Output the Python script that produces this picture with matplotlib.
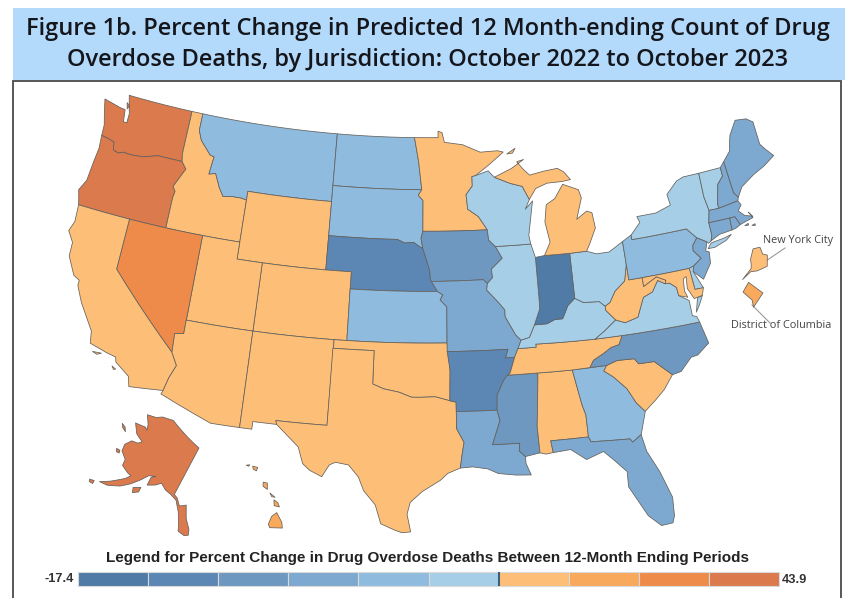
import numpy as np
import matplotlib
matplotlib.use("Agg")
import matplotlib.pyplot as plt
from matplotlib.patches import Polygon, Rectangle

W, H = 848, 598
TITLE_LINES = ["Figure 1b. Percent Change in Predicted 12 Month-ending Count of Drug",
               "Overdose Deaths, by Jurisdiction: October 2022 to October 2023"]
LEGEND_TITLE = "Legend for Percent Change in Drug Overdose Deaths Between 12-Month Ending Periods"
LEGEND_MIN, LEGEND_MAX = "-17.4", "43.9"
BIN_EDGES = [-17.4, -14.5, -11.6, -8.7, -5.8, -2.9, 0, 11, 22, 33, 43.9]
BIN_COLORS = ["#4f7ba6", "#5c87b4", "#6f98c0", "#7da8cf", "#8fbcde", "#a6cfe7",
              "#fdbf77", "#f9a95c", "#ef8b4a", "#db7a4c"]

JURISDICTIONS = ["AL","AK","AZ","AR","CA","CO","CT","DE","DC","FL","GA","HI","ID","IL","IN","IA","KS","KY","LA","ME",
                 "MD","MA","MI","MN","MS","MO","MT","NE","NV","NH","NJ","NM","NY","NYC","NC","ND","OH","OK","OR","PA",
                 "RI","SC","SD","TN","TX","UT","VT","VA","WA","WV","WI","WY"]
PERCENT_CHANGE = [5, 40, 5, -13, 5, 5, -7, -2, 15, -7, -4, 15, 5, -1.5, -16, -10, -4, -1.5, -7, -7,
                  5, -7, 5, 5, -10, -6.5, -4, -13, 28, -7, -7, 5, -1.5, 5, -10, -4, -1.5, 5, 40, -4,
                  -7, 5, -4, 5, 5, 5, -1.5, -1.5, 40, 5, -1.5, 5]

WA = [(-124.7,48.38),(-123.2,48.15),(-122.75,48.12),(-122.6,47.4),(-122.3,47.4),(-122.3,47.95),(-122.5,48.4),(-122.75,49.0),(-117.03,49.0),(-117.04,46.42),(-116.92,45.99),(-118.98,46.0),(-119.3,45.93),(-120.2,45.72),(-121.2,45.65),(-121.9,45.68),(-122.3,45.55),(-122.76,45.65),(-122.9,46.1),(-123.4,46.2),(-124.05,46.27),(-124.1,46.9),(-124.4,47.6)]
WA_ISLAND = [(-122.75,48.55),(-122.45,48.4),(-122.6,48.2)]
OR = [(-124.05,46.27),(-123.4,46.2),(-122.9,46.1),(-122.76,45.65),(-122.3,45.55),(-121.9,45.68),(-121.2,45.65),(-120.2,45.72),(-119.3,45.93),(-118.98,46.0),(-116.92,45.99),(-116.47,45.6),(-116.7,45.25),(-117.2,44.45),(-116.95,44.2),(-117.03,43.8),(-117.03,42.0),(-124.2,42.0),(-124.4,42.5),(-124.55,42.84),(-124.15,43.5),(-124.05,44.7),(-123.95,45.5)]
ID = [(-117.03,49.0),(-116.05,49.0),(-116.05,48.0),(-115.7,47.45),(-114.7,46.7),(-114.35,46.65),(-114.5,45.6),(-113.95,45.7),(-113.45,44.95),(-113.0,44.45),(-112.3,44.55),(-111.5,44.55),(-111.05,44.48),(-111.05,42.0),(-117.03,42.0),(-117.03,43.8),(-116.95,44.2),(-117.2,44.45),(-116.7,45.25),(-116.47,45.6),(-116.92,45.99),(-117.04,46.42)]
MT = [(-116.05,49.0),(-104.05,49.0),(-104.05,45.0),(-111.05,45.0),(-111.05,44.48),(-111.5,44.55),(-112.3,44.55),(-113.0,44.45),(-113.45,44.95),(-113.95,45.7),(-114.5,45.6),(-114.35,46.65),(-114.7,46.7),(-115.7,47.45),(-116.05,48.0)]
WY = [(-111.05,45),(-104.05,45),(-104.05,41),(-111.05,41)]
ND = [(-104.05,49),(-97.23,49),(-96.85,47.6),(-96.56,45.93),(-104.05,45.94)]
SD = [(-104.05,45.94),(-96.56,45.93),(-96.85,45.6),(-96.45,45.3),(-96.45,43.5),(-96.6,43.1),(-96.45,42.49),(-96.7,42.6),(-97.2,42.85),(-97.9,42.8),(-98.5,43),(-104.05,43)]
NE = [(-104.05,43),(-98.5,43),(-97.9,42.8),(-97.2,42.85),(-96.7,42.6),(-96.45,42.49),(-96.1,41.7),(-95.9,41.2),(-95.85,40.7),(-95.31,40.0),(-102.05,40),(-102.05,41),(-104.05,41)]
CO = [(-109.05,41),(-102.05,41),(-102.05,37),(-109.05,37)]
UT = [(-114.05,42),(-111.05,42),(-111.05,41),(-109.05,41),(-109.05,37),(-114.05,37)]
NV = [(-120,42),(-114.05,42),(-114.05,36.2),(-114.7,36.1),(-114.63,35.0),(-120,39)]
CA = [(-124.2,42),(-120,42),(-120,39),(-114.63,35),(-114.13,34.3),(-114.5,33.5),(-114.72,32.72),(-117.12,32.53),(-117.3,33.1),(-118.4,33.75),(-118.5,34.03),(-119.2,34.15),(-120.5,34.45),(-120.65,35.15),(-121.9,36.6),(-122.5,37.5),(-122.5,37.8),(-123.0,38.0),(-123.75,39.0),(-123.8,39.8),(-124.35,40.4),(-124.1,41.0)]
CA_CHANNEL_A = [(-120.2,34.02),(-119.55,34.05),(-119.85,33.92)]
CA_CHANNEL_B = [(-118.6,33.47),(-118.3,33.35),(-118.45,33.3)]
AZ = [(-114.05,37),(-109.05,37),(-109.05,31.33),(-111.07,31.33),(-114.82,32.5),(-114.72,32.72),(-114.5,33.5),(-114.13,34.3),(-114.63,35),(-114.7,36.1),(-114.05,36.2)]
NM = [(-109.05,37),(-103.0,37),(-103.05,32),(-106.62,32),(-106.53,31.78),(-108.2,31.78),(-108.2,31.33),(-109.05,31.33)]
KS = [(-102.05,40),(-95.31,40),(-94.9,39.8),(-95.1,39.5),(-94.6,39.1),(-94.62,37),(-102.05,37)]
OK = [(-103,37),(-94.62,37),(-94.43,35.4),(-94.48,33.64),(-95.5,33.88),(-96.6,33.85),(-97.2,33.85),(-98.1,34.13),(-99.2,34.3),(-100,34.56),(-100,36.5),(-103,36.5)]
TX = [(-106.62,32),(-103.05,32),(-103.04,36.5),(-100,36.5),(-100,34.56),(-99.2,34.3),(-98.1,34.13),(-97.2,33.85),(-96.6,33.85),(-95.5,33.88),(-94.48,33.64),(-94.04,33.55),(-94.04,32),(-93.55,31.2),(-93.7,30.5),(-93.85,29.7),(-94.7,29.4),(-95.2,29.0),(-96.4,28.35),(-97.2,27.7),(-97.4,27.0),(-97.15,25.96),(-97.7,25.9),(-98.2,26.05),(-99.1,26.4),(-99.5,27.5),(-100.3,28.3),(-100.7,29.1),(-101.4,29.77),(-102.3,29.88),(-102.7,29.7),(-103.15,28.98),(-104.0,29.3),(-104.5,29.65),(-104.9,30.6),(-106.0,31.4),(-106.53,31.78)]
MN = [(-97.23,49),(-95.15,49),(-95.15,49.38),(-94.8,49.3),(-94.6,48.72),(-93.0,48.55),(-91.5,48.07),(-90,48.1),(-89.5,48.0),(-90.8,47.3),(-92.0,46.7),(-92.3,46.65),(-92.3,46.1),(-92.85,45.6),(-92.75,44.75),(-91.9,44.3),(-91.22,43.5),(-96.45,43.5),(-96.45,45.3),(-96.85,45.6),(-96.56,45.93),(-96.85,47.6)]
IA = [(-96.45,43.5),(-91.22,43.5),(-91.15,42.9),(-90.64,42.5),(-90.15,41.8),(-91.05,41.2),(-91.0,40.7),(-91.42,40.38),(-91.73,40.61),(-95.77,40.58),(-95.85,40.7),(-95.9,41.2),(-96.1,41.7),(-96.45,42.49),(-96.6,43.1)]
MO = [(-95.77,40.58),(-91.73,40.61),(-91.42,40.38),(-91.5,40.0),(-90.7,39.3),(-90.2,38.8),(-90.2,38.4),(-89.5,37.3),(-89.13,36.98),(-89.4,36.5),(-89.7,36.0),(-90.37,36.0),(-90.15,36.5),(-94.62,36.5),(-94.62,37),(-94.6,39.1),(-95.1,39.5),(-94.9,39.8),(-95.31,40)]
AR = [(-94.62,36.5),(-90.15,36.5),(-90.37,36.0),(-89.7,36.0),(-90.1,35.1),(-90.6,34.7),(-91.1,33.9),(-91.17,33.0),(-94.04,33.0),(-94.04,33.55),(-94.48,33.64),(-94.43,35.4)]
LA = [(-94.04,33),(-91.17,33),(-91.0,32.4),(-91.6,31.0),(-89.73,31.0),(-89.8,30.55),(-89.4,30.2),(-89.4,29.8),(-89.1,29.1),(-90.1,29.15),(-91.3,29.3),(-92.0,29.6),(-93.0,29.75),(-93.85,29.7),(-93.7,30.5),(-93.55,31.2),(-94.04,32)]
MS = [(-91.17,33),(-91.1,33.9),(-90.6,34.7),(-90.3,35.0),(-88.2,35.0),(-88.1,34.9),(-88.45,31.9),(-88.4,30.35),(-89.4,30.2),(-89.8,30.55),(-89.73,31),(-91.6,31),(-91,32.4)]
AL = [(-88.2,35),(-85.6,34.98),(-85.18,32.87),(-85,32.3),(-85.0,31.0),(-87.6,31.0),(-87.5,30.3),(-88.0,30.25),(-88.4,30.35),(-88.45,31.9),(-88.1,34.9)]
GA = [(-85.6,34.98),(-83.1,35.0),(-83.35,34.7),(-82.75,34.3),(-81.9,33.5),(-81.4,32.6),(-80.87,32.03),(-81.4,30.72),(-82.05,30.36),(-82.2,30.57),(-84.86,30.7),(-85,31),(-85,32.3),(-85.18,32.87)]
FL = [(-87.6,31),(-85,31),(-84.86,30.7),(-82.2,30.57),(-82.05,30.36),(-81.4,30.72),(-81.2,29.7),(-80.55,28.4),(-80.0,26.8),(-80.08,25.7),(-80.25,25.3),(-81.0,25.25),(-81.75,25.95),(-82.2,26.8),(-82.75,27.8),(-82.7,28.7),(-83.5,29.5),(-84.1,30.05),(-85.3,29.7),(-86.3,30.38),(-87.5,30.3)]
SC = [(-83.1,35),(-82.3,35.2),(-81.05,35.15),(-80.8,34.82),(-79.67,34.8),(-78.55,33.86),(-79.3,33.1),(-80.0,32.6),(-80.87,32.03),(-81.4,32.6),(-81.9,33.5),(-82.75,34.3),(-83.35,34.7)]
NC = [(-84.32,35.0),(-83.1,35),(-82.3,35.2),(-81.05,35.15),(-80.8,34.82),(-79.67,34.8),(-78.55,33.86),(-77.9,33.95),(-77.0,34.65),(-76.5,34.7),(-75.55,35.25),(-75.87,36.55),(-81.68,36.59),(-82.0,36.1),(-82.6,36.0),(-83.2,35.72),(-84.0,35.4)]
TN = [(-90.3,35),(-88.2,35),(-85.6,34.98),(-84.32,35),(-84.0,35.4),(-83.2,35.72),(-82.6,36),(-82,36.1),(-81.68,36.59),(-83.68,36.6),(-86.5,36.65),(-88.07,36.68),(-88.07,36.5),(-89.4,36.5),(-89.7,36.0),(-90.1,35.1)]
KY = [(-89.4,36.5),(-88.07,36.5),(-88.07,36.68),(-86.5,36.65),(-83.68,36.6),(-82.9,37.0),(-81.97,37.54),(-82.6,38.17),(-82.6,38.42),(-83.0,38.73),(-84.2,38.8),(-84.82,39.1),(-85.4,38.73),(-85.9,38.0),(-86.5,38.0),(-87.1,37.8),(-88.05,37.8),(-88.5,37.1),(-89.13,36.98)]
VA = [(-83.68,36.6),(-81.68,36.59),(-75.87,36.55),(-76.0,36.9),(-76.3,37.0),(-76.3,37.9),(-77.0,38.3),(-77.04,38.79),(-77.5,39.12),(-77.83,39.13),(-78.35,39.4),(-78.9,38.8),(-79.65,38.58),(-80.3,37.5),(-81.3,37.3),(-81.97,37.54),(-82.9,37.0)]
VA_SHORE = [(-75.25,38.03),(-75.65,37.95),(-75.95,37.15),(-75.6,37.55)]
WV = [(-81.97,37.54),(-81.3,37.3),(-80.3,37.5),(-79.65,38.58),(-78.9,38.8),(-78.35,39.4),(-77.83,39.13),(-77.72,39.32),(-78.4,39.62),(-79.48,39.2),(-79.48,39.72),(-80.52,39.72),(-80.52,40.64),(-80.85,39.7),(-81.7,39.2),(-82.2,38.6),(-82.6,38.42),(-82.6,38.17)]
OH = [(-84.82,39.1),(-84.8,41.73),(-83.45,41.73),(-82.7,41.5),(-81.7,41.5),(-80.52,41.98),(-80.52,40.64),(-80.85,39.7),(-81.7,39.2),(-82.2,38.6),(-82.6,38.42),(-83,38.73),(-84.2,38.8)]
IN = [(-87.53,41.7),(-86.8,41.76),(-84.8,41.73),(-84.82,39.1),(-85.4,38.73),(-85.9,38),(-86.5,38),(-87.1,37.8),(-88.05,37.8),(-87.55,38.7),(-87.53,39.35)]
IL = [(-90.64,42.5),(-87.8,42.5),(-87.53,41.7),(-87.53,39.35),(-87.55,38.7),(-88.05,37.8),(-88.5,37.1),(-89.13,36.98),(-89.5,37.3),(-90.2,38.4),(-90.2,38.8),(-90.7,39.3),(-91.5,40),(-91.42,40.38),(-91,40.7),(-91.05,41.2),(-90.15,41.8)]
WI = [(-92.3,46.65),(-92.0,46.7),(-90.9,46.95),(-90.4,46.55),(-89.1,46.13),(-88.1,45.9),(-87.6,45.1),(-88.0,44.55),(-87.35,45.0),(-87.55,44.3),(-87.9,43.0),(-87.8,42.5),(-90.64,42.5),(-91.15,42.9),(-91.22,43.5),(-91.9,44.3),(-92.75,44.75),(-92.85,45.6),(-92.3,46.1)]
MI_LOWER = [(-86.8,41.76),(-84.8,41.73),(-83.45,41.73),(-83.15,42.1),(-82.5,43.0),(-82.6,43.9),(-83.0,44.05),(-83.9,43.65),(-83.3,44.85),(-83.45,45.35),(-84.7,45.78),(-85.5,45.0),(-86.25,44.7),(-86.5,43.7),(-86.25,42.5)]
MI_UPPER = [(-90.4,46.55),(-89.1,46.13),(-88.1,45.9),(-87.6,45.1),(-87.0,45.7),(-86.0,45.95),(-84.75,45.95),(-84.0,46.0),(-84.5,46.5),(-85.0,46.75),(-86.2,46.67),(-87.4,46.52),(-87.9,46.9),(-88.4,47.37),(-87.8,47.47),(-88.9,47.0)]
MI_ROYALE = [(-89.2,47.87),(-88.45,48.17),(-88.7,47.9)]
PA = [(-80.52,41.98),(-79.76,42.27),(-79.76,42.0),(-75.35,42.0),(-74.7,41.36),(-75.13,40.98),(-75.2,40.68),(-74.72,40.15),(-75.42,39.8),(-75.79,39.72),(-80.52,39.72)]
NY = [(-79.76,42.27),(-78.9,42.9),(-79.05,43.27),(-77.5,43.27),(-76.2,43.55),(-76.3,44.2),(-75.3,44.85),(-74.7,45.0),(-73.35,45.0),(-73.4,43.6),(-73.25,42.75),(-73.5,42.05),(-73.5,41.3),(-73.66,41.0),(-73.9,40.9),(-74.0,41.0),(-74.7,41.36),(-75.35,42),(-79.76,42)]
NY_LI = [(-74.02,40.6),(-73.7,40.88),(-72.6,40.98),(-72.0,41.08),(-72.5,40.82),(-73.5,40.58)]
VT = [(-73.35,45),(-71.5,45.01),(-71.5,44.5),(-72.05,44.1),(-72.45,43.0),(-72.46,42.73),(-73.25,42.75),(-73.4,43.6)]
NH = [(-71.5,45.01),(-71.1,45.3),(-70.98,43.4),(-70.7,43.07),(-70.82,42.87),(-72.46,42.73),(-72.45,43),(-72.05,44.1),(-71.5,44.5)]
ME = [(-71.1,45.3),(-70.4,45.8),(-70.25,46.2),(-70.0,46.7),(-69.23,47.46),(-68.3,47.36),(-67.8,47.07),(-67.8,45.7),(-67.45,45.3),(-66.97,44.82),(-68.0,44.4),(-69.0,44.1),(-70.2,43.6),(-70.7,43.07),(-70.98,43.4)]
MA = [(-73.5,42.05),(-73.25,42.75),(-72.46,42.73),(-70.82,42.87),(-70.65,42.6),(-71.0,42.3),(-70.6,41.95),(-70.0,41.78),(-70.25,42.07),(-70.0,41.7),(-70.6,41.6),(-71.12,41.5),(-71.38,42.02),(-71.8,42.02)]
MA_VINEYARD = [(-70.8,41.37),(-70.5,41.45),(-70.5,41.35)]
MA_NANTUCKET = [(-70.25,41.28),(-69.98,41.32),(-70.0,41.22)]
CT = [(-73.5,42.05),(-71.8,42.02),(-71.85,41.32),(-72.9,41.25),(-73.66,41.0),(-73.5,41.3)]
RI = [(-71.8,42.02),(-71.38,42.02),(-71.12,41.5),(-71.5,41.37),(-71.85,41.32)]
NJ = [(-75.13,40.98),(-74.7,41.36),(-74.0,41.0),(-74.25,40.5),(-74.0,40.4),(-74.1,39.75),(-74.9,38.93),(-75.55,39.5),(-75.42,39.8),(-74.72,40.15),(-75.2,40.68)]
DE = [(-75.79,39.72),(-75.42,39.8),(-75.55,39.5),(-75.05,38.45),(-75.7,38.46)]
MD = [(-79.48,39.72),(-75.79,39.72),(-75.7,38.46),(-75.05,38.45),(-75.25,38.03),(-75.9,37.95),(-76.25,38.6),(-76.15,39.3),(-76.4,39.2),(-76.5,38.5),(-76.35,38.1),(-77,38.3),(-77.04,38.79),(-77.5,39.12),(-77.83,39.13),(-77.72,39.32),(-78.4,39.62),(-79.48,39.2)]
AK = [(-156.5,71.3),(-152,70.85),(-148,70.4),(-141,69.65),(-141,60.3),(-139.5,60.0),(-137.5,59.0),(-135.5,59.6),(-133.5,57.6),(-131.2,56.2),(-130.6,55.3),(-131.8,55.0),(-134.2,55.3),(-135.2,56.5),(-137,58.1),(-139.5,59.6),(-142,60.0),(-144.5,60.2),(-147,60.8),(-148.5,60.0),(-151,59.2),(-151.3,60.6),(-150,61.2),(-152.3,60.6),(-153.8,59.3),(-156,57.7),(-158.5,56.3),(-162,55.0),(-164.7,54.5),(-162,55.8),(-158.5,57.8),(-157.5,58.7),(-159,58.7),(-162,59.0),(-162.5,60.0),(-165.3,60.6),(-166,61.7),(-164.8,63.0),(-162.5,63.5),(-161.5,64.2),(-165,64.5),(-168,65.65),(-164,66.5),(-162.8,66.3),(-163.8,67.2),(-166.5,68.4),(-163,69.3),(-161,70.3)]
AK_KODIAK = [(-154.6,57.5),(-152.4,58.3),(-152.2,57.5),(-153.8,56.8)]
AK_NUNIVAK = [(-167.3,60.2),(-166,60.4),(-165.6,60.0),(-166.6,59.8)]
AK_STLAWRENCE = [(-171.7,63.7),(-170,63.7),(-168.8,63.2),(-170.5,63.3)]
AK_UNALASKA = [(-167.6,53.6),(-166.2,54.0),(-166.0,53.5),(-167.2,53.3)]
HI_BIG = [(-155.9,20.25),(-155.1,19.85),(-154.8,19.5),(-155.65,18.92),(-155.9,19.1),(-156.05,19.75)]
HI_MAUI = [(-156.7,20.95),(-156.3,20.95),(-156.0,20.75),(-156.4,20.58)]
HI_MOLOKAI = [(-157.3,21.2),(-156.75,21.17),(-157.0,21.05)]
HI_OAHU = [(-158.28,21.57),(-157.97,21.71),(-157.65,21.3),(-158.1,21.3)]
HI_KAUAI = [(-159.78,22.06),(-159.4,22.23),(-159.3,21.95),(-159.6,21.9)]
HI_NIIHAU = [(-160.25,21.8),(-160.05,22.0),(-160.05,21.85)]
NYC = [(-74.25,40.5),(-74.05,40.62),(-74.03,40.68),(-74.02,40.75),(-73.93,40.88),(-73.8,40.88),(-73.78,40.78),(-73.7,40.75),(-73.75,40.6),(-73.95,40.57),(-74.07,40.58)]
DC = [(-77.12,38.93),(-77.04,39.0),(-76.91,38.89),(-77.04,38.79),(-77.04,38.85)]

PARTS = {"WA":[WA,WA_ISLAND],"OR":[OR],"ID":[ID],"MT":[MT],"WY":[WY],"ND":[ND],"SD":[SD],"NE":[NE],"CO":[CO],"UT":[UT],"NV":[NV],
         "CA":[CA,CA_CHANNEL_A,CA_CHANNEL_B],
         "AZ":[AZ],"NM":[NM],"KS":[KS],"OK":[OK],"TX":[TX],"MN":[MN],"IA":[IA],"MO":[MO],"AR":[AR],"LA":[LA],"MS":[MS],"AL":[AL],
         "GA":[GA],"FL":[FL],"SC":[SC],"NC":[NC],"TN":[TN],"KY":[KY],"VA":[VA,VA_SHORE],"WV":[WV],"OH":[OH],"IN":[IN],"IL":[IL],"WI":[WI],
         "MI":[MI_LOWER,MI_UPPER,MI_ROYALE],"PA":[PA],"NY":[NY,NY_LI],"VT":[VT],"NH":[NH],"ME":[ME],"MA":[MA,MA_VINEYARD,MA_NANTUCKET],
         "CT":[CT],"RI":[RI],"NJ":[NJ],"DE":[DE],"MD":[MD],
         "AK":[AK,AK_KODIAK,AK_NUNIVAK,AK_STLAWRENCE,AK_UNALASKA],
         "HI":[HI_BIG,HI_MAUI,HI_MOLOKAI,HI_OAHU,HI_KAUAI,HI_NIIHAU],"NYC":[NYC],"DC":[DC]}

# Albers equal-area conic, the projection of the map
N = (np.sin(np.radians(29.5)) + np.sin(np.radians(45.5))) / 2
C = np.cos(np.radians(29.5))**2 + 2*N*np.sin(np.radians(29.5))
RHO0 = np.sqrt(C - 2*N*np.sin(np.radians(37.5))) / N

def albers(lon, lat):
    rho = np.sqrt(C - 2*N*np.sin(np.radians(lat))) / N
    th = N*np.radians(np.asarray(lon) + 96)
    return rho*np.sin(th), RHO0 - rho*np.cos(th)

def dense(ring):
    """Subdivide long edges so parallels curve as they do on the map."""
    out = []
    for (a, b), (c, d) in zip(ring, ring[1:] + ring[:1]):
        k = max(1, int(max(abs(c-a), abs(d-b))))
        for t in range(k):
            out.append((a + (c-a)*t/k, b + (d-b)*t/k))
    return np.array(out)

SCALE = 977.5                 # map pixels per projected unit
X0, Y0 = -0.4383, 0.3422      # projected coordinates of the figure's top-left pixel

def main_xy(arr):
    return np.column_stack(albers(arr[:,0], arr[:,1]))

def inset(arr, ref_lonlat, ref_px, k):
    """Scaled copy of a shape, placed so a reference point falls on a given pixel."""
    xy = main_xy(arr)
    rx, ry = albers(*ref_lonlat)
    tx, ty = X0 + ref_px[0]/SCALE, Y0 - ref_px[1]/SCALE
    return np.column_stack([tx + (xy[:,0]-rx)*k, ty + (xy[:,1]-ry)*k])

def alaska(arr):
    xy = main_xy(arr)
    rx, ry = albers(-141, 69.65)
    dx, dy = xy[:,0]-rx, xy[:,1]-ry
    px = 199 + 310*dx + 46.6*dy
    py = 448 - 33.6*dx - 369*dy
    return np.column_stack([X0 + px/SCALE, Y0 - py/SCALE])

TRANSFORM = {
    "AK": alaska,
    "HI": lambda a: inset(a, (-155.5, 19.6), (276, 522), 728/SCALE),
    "NYC": lambda a: inset(a, (-73.97, 40.7), (754, 262), 4.2),
    "DC": lambda a: inset(a, (-77.02, 38.89), (753, 295), 7.0),
}

fig = plt.figure(figsize=(W/100, H/100), dpi=100, facecolor="white")

# layout layer in figure pixels
lay = fig.add_axes([0, 0, 1, 1])
lay.set_xlim(0, W); lay.set_ylim(H, 0); lay.axis("off")
lay.add_patch(Rectangle((13, 8), 832, 72, fc="#b3d9fb", ec="none"))
lay.add_patch(Rectangle((13, 81), 828, 530, fc="white", ec="#4a4a4a", lw=1.3))
for txt, y in zip(TITLE_LINES, (29, 60)):
    lay.text(428, y, txt, ha="center", va="center", family="Open Sans", fontsize=17,
             fontweight="semibold", color="#14161c")
lay.text(428, 558, LEGEND_TITLE, ha="center", va="center", family="Liberation Sans",
         fontsize=11, fontweight="bold", color="#222222")

# legend: six equal cells below zero, four above
cell_left = 78
cell_w = 70.1
for i, col in enumerate(BIN_COLORS):
    lay.add_patch(Rectangle((cell_left + i*cell_w, 572), cell_w, 14, fc=col, ec="#d9d9d9", lw=0.8))
lay.plot([cell_left + 6*cell_w]*2, [572, 586], color="#3f5f80", lw=1.5, solid_capstyle="butt")
lay.text(74, 579, LEGEND_MIN, ha="right", va="center", family="Liberation Sans", fontsize=9.3, fontweight="bold", color="#333333")
lay.text(782, 580, LEGEND_MAX, ha="left", va="center", family="Liberation Sans", fontsize=9.3, fontweight="bold", color="#333333")

# map layer in projected coordinates
ax = fig.add_axes([0, 0, 1, 1], facecolor="none")
ax.set_xlim(X0, X0 + W/SCALE); ax.set_ylim(Y0 - H/SCALE, Y0); ax.axis("off")
values = dict(zip(JURISDICTIONS, PERCENT_CHANGE))
for code, rings in PARTS.items():
    idx = int(np.clip(np.digitize(values[code], BIN_EDGES) - 1, 0, len(BIN_COLORS)-1))
    f = TRANSFORM.get(code, main_xy)
    for ring in rings:
        ax.add_patch(Polygon(f(dense(ring)), closed=True, fc=BIN_COLORS[idx], ec="#63605c", lw=0.55, joinstyle="round"))

# callouts
for (x0, y0, x1, y1) in [(785, 248, 763, 263), (752, 305, 770, 323)]:
    lay.plot([x0, x1], [y0, y1], color="#9a9a9a", lw=0.8)
lay.text(798, 241, "New York City", ha="center", va="center", family="Open Sans", fontsize=7.8, color="#444444")
lay.text(781.5, 326, "District of Columbia", ha="center", va="center", family="Open Sans", fontsize=7.8, color="#444444")

fig.savefig("out.png", dpi=100)
